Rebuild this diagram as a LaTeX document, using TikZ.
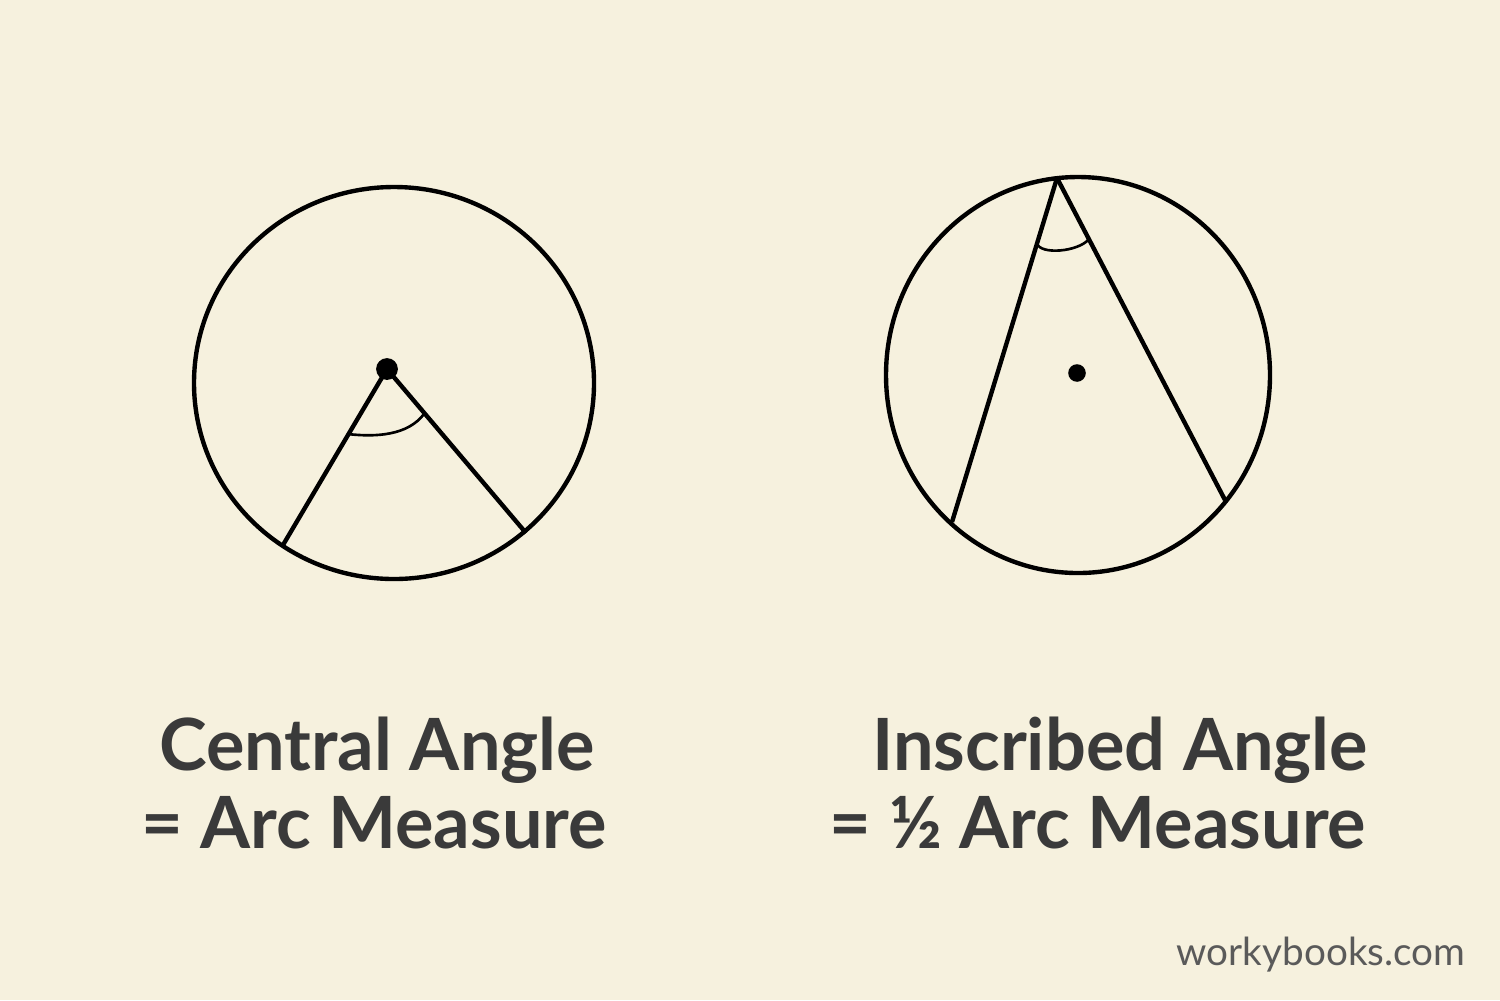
\documentclass[tikz,border=0pt]{standalone}
\usepackage{fontspec}
\setmainfont{Lato}
\usetikzlibrary{calc}
\usepackage{xcolor}

\definecolor{paper}{HTML}{F6F1DE}
\definecolor{ink}{HTML}{3A3A3A}
\definecolor{mark}{HTML}{5A5A5A}

\tikzset{
  geo/.style={line width=1.25pt, black},
  dot/.style={circle, fill=black, inner sep=0pt, minimum size=#1},
  caption/.style={text=ink, font=\bfseries\fontsize{20.5}{23}\selectfont, anchor=base, inner sep=0pt},
}

\begin{document}
\begin{tikzpicture}[x=0.1mm, y=-0.1mm]
  \fill[paper] (0,0) rectangle (1500,1000);
  \useasboundingbox (0,0) rectangle (1500,1000);

  % central angle
  \coordinate (c1) at (394,383);
  \coordinate (p1) at (283,545);
  \coordinate (q1) at (526,533);
  \draw[geo] (c1) ellipse [x radius=200, y radius=196];
  \node[dot=6.2pt] (v1) at (387,369) {};
  \draw[geo] (v1.center) -- (p1);
  \draw[geo] (v1.center) -- (q1);
  \draw[line width=0.75pt] ($(v1.center)!0.37!(p1)$) .. controls (375,437) and (408,436) .. ($(v1.center)!0.27!(q1)$);

  % inscribed angle
  \coordinate (c2) at (1078,375);
  \coordinate (p2) at (952,522);
  \coordinate (q2) at (1225,500);
  \draw[geo] (c2) ellipse [x radius=192, y radius=198];
  \node[dot=5pt] (o2) at (1077,373) {};
  \coordinate (v2) at (1057,178);
  \draw[geo] (v2) -- (p2);
  \draw[geo] (v2) -- (q2);
  \draw[line width=0.75pt] ($(v2)!0.19!(p2)$) .. controls (1040,255) and (1078,252) .. ($(v2)!0.19!(q2)$);

  % captions
  \node[caption] (t1) at (377,770) {Central Angle};
  \node[caption] (t2) at (374,848) {= Arc Measure};
  \node[caption] (t3) at (1120,770) {Inscribed Angle};
  \node[caption] (t4) at (1098,848) {= ½ Arc Measure};

  \node[text=mark, font=\fontsize{11}{13}\selectfont, anchor=base east, inner sep=0pt] (brand) at (1466,965) {workybooks.com};
\end{tikzpicture}
\end{document}
